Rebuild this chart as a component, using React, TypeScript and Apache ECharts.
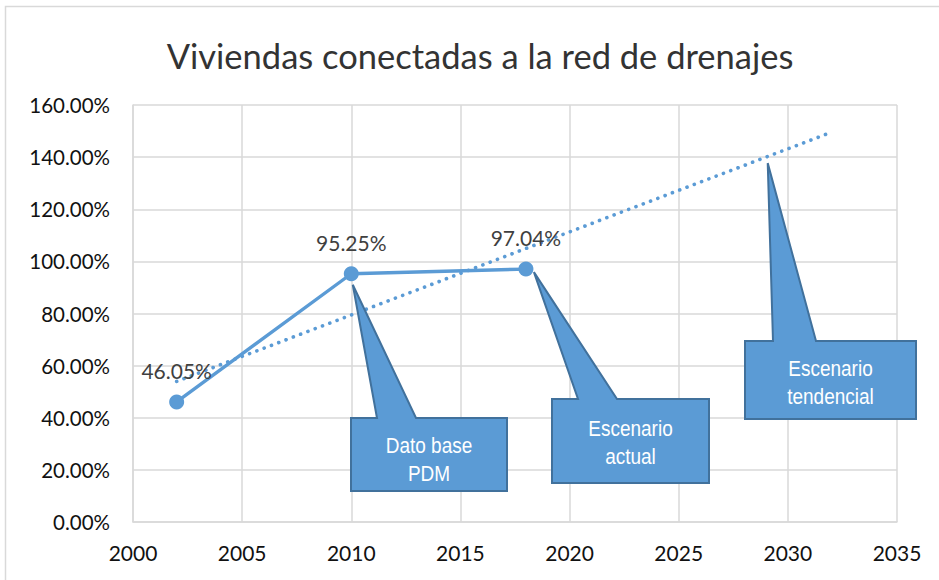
import React, { useEffect, useRef } from "react";
import * as echarts from "echarts";

// ---- data ----
const years = [2002, 2010, 2018];
const coverage = [46.05, 95.25, 97.04];
// linear trend line (Excel trendline), read endpoints
const trendYears = [2002, 2032];
const trendValues = [53.95, 149.56];
const titleText = "Viviendas conectadas a la red de drenajes";
const calloutTexts = ["Dato base\nPDM", "Escenario\nactual", "Escenario\ntendencial"];
// anchor (data coordinates) each callout points to
const calloutAnchors = [
  [2010, 95.25],
  [2018, 97.04],
  [2029, 140.0],
];
const xMin = 2000, xMax = 2035, xStep = 5;
const yMin = 0, yMax = 160, yStep = 20;

const BLUE = "#5B9BD5";
const DARK_BLUE = "#41719C";
const GRID = "#d9d9d9";

// callout boxes: rect [x0,y0,x1,y1], pointer base [b1,b2], tip offset from anchor [dx,dy]
const calloutBoxes = [
  { rect: [351, 418, 507, 491], base: [377, 416], tipOff: [1.5, 11], textY: 459 },
  { rect: [552, 399, 709, 483], base: [578, 617], tipOff: [8, 3], textY: 442 },
  { rect: [745, 341, 916, 419], base: [773, 816], tipOff: [1.7, 6], textY: 382 },
];

export default function App() {
  const ref = useRef<HTMLDivElement>(null);
  useEffect(() => {
    if (!ref.current) return;
    const chart = echarts.init(ref.current, undefined, { renderer: "svg" });
    const pct = (v: number) => v.toFixed(2) + "%";
    chart.setOption({
      animation: false,
      backgroundColor: "#ffffff",
      grid: { left: 133, right: 42, top: 105, bottom: 58 },
      xAxis: {
        type: "value",
        min: xMin,
        max: xMax,
        interval: xStep,
        axisLine: { show: true, lineStyle: { color: GRID, width: 1.5 } },
        axisTick: { show: false },
        splitLine: { show: true, lineStyle: { color: GRID, width: 1.5 } },
        axisLabel: {
          fontFamily: "Lato",
          fontSize: 21,
          color: "#111111",
          margin: 20,
          formatter: (v: number) => String(v),
        },
      },
      yAxis: {
        type: "value",
        min: yMin,
        max: yMax,
        interval: yStep,
        axisLine: { show: true, lineStyle: { color: GRID, width: 1.5 } },
        axisTick: { show: false },
        splitLine: { show: true, lineStyle: { color: GRID, width: 1.5 } },
        axisLabel: {
          fontFamily: "Lato",
          fontSize: 20.5,
          color: "#111111",
          margin: 23,
          formatter: (v: number) => pct(v),
        },
      },
      series: [
        {
          type: "line",
          name: "Tendencia",
          data: trendYears.map((y, i) => [y, trendValues[i]]),
          symbol: "none",
          silent: true,
          z: 1,
          lineStyle: { color: BLUE, width: 3.6, type: [0.1, 7.7], cap: "round" },
        },
        {
          type: "line",
          name: "Viviendas conectadas",
          data: years.map((y, i) => [y, coverage[i]]),
          symbol: "circle",
          symbolSize: 15,
          z: 2,
          itemStyle: { color: BLUE },
          lineStyle: { color: BLUE, width: 3.4 },
          label: {
            show: true,
            position: "top",
            distance: 13.5,
            fontFamily: "Lato",
            fontSize: 21,
            color: "#404040",
            formatter: (p: any) => pct(p.value[1]),
          },
        },
      ],
    });

    const graphics: any[] = [
      {
        type: "rect",
        shape: { x: 5.5, y: 6.5, width: 1000, height: 1000 },
        style: { fill: "none", stroke: GRID, lineWidth: 1.5 },
        z: 0,
      },
      {
        type: "text",
        x: 480,
        y: 55,
        style: {
          text: titleText,
          fontFamily: "Lato",
          fontSize: 34.5,
          fill: "#333333",
          textAlign: "center",
          textVerticalAlign: "middle",
        },
      },
    ];
    calloutBoxes.forEach((b, i) => {
      const p = chart.convertToPixel({ gridIndex: 0 }, calloutAnchors[i]) as number[];
      const tip = [p[0] + b.tipOff[0], p[1] + b.tipOff[1]];
      const [x0, y0, x1, y1] = b.rect;
      graphics.push({
        type: "polygon",
        z: 100,
        shape: {
          points: [
            [x0, y0],
            [b.base[0], y0],
            tip,
            [b.base[1], y0],
            [x1, y0],
            [x1, y1],
            [x0, y1],
          ],
        },
        style: { fill: BLUE, stroke: DARK_BLUE, lineWidth: 2, lineJoin: "miter" },
      });
      graphics.push({
        type: "text",
        z: 101,
        x: (x0 + x1) / 2,
        y: b.textY,
        scaleY: 1.18,
        style: {
          text: calloutTexts[i],
          fontFamily: "Liberation Sans",
          fontSize: 19,
          lineHeight: 24,
          fill: "#ffffff",
          textAlign: "center",
          textVerticalAlign: "middle",
        },
      });
    });
    chart.setOption({ graphic: graphics });

    return () => chart.dispose();
  }, []);
  return (
    <div
      ref={ref}
      style={{ position: "absolute", left: 0, top: 0, width: 939, height: 580 }}
    />
  );
}
